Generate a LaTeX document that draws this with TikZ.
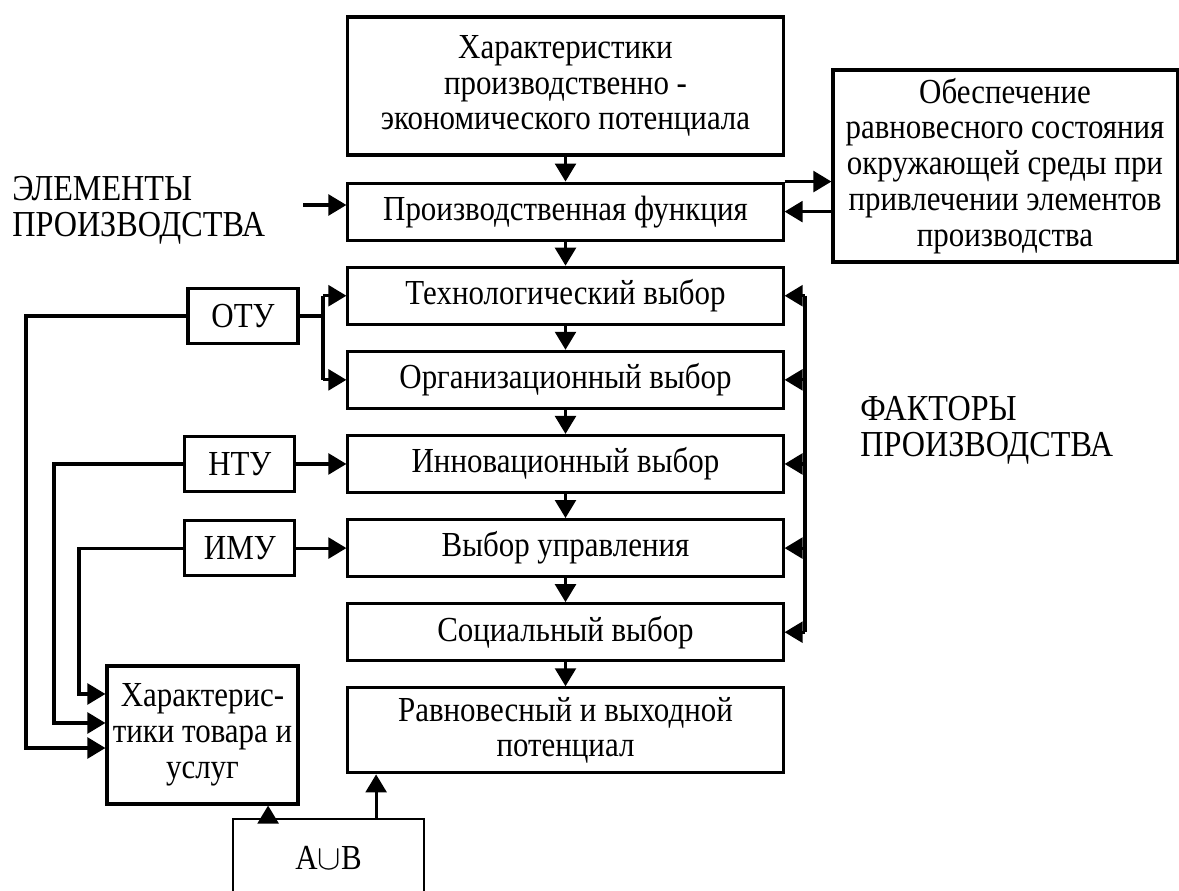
\documentclass[tikz,border=0pt]{standalone}
\usepackage{fontspec}
\setmainfont{Liberation Serif}[FakeStretch=0.88]
\usepackage{tikz}
\usetikzlibrary{positioning, arrows.meta, calc}

\begin{document}
\begin{tikzpicture}[
  x=0.025cm, y=-0.025cm,
  box/.style={
    rectangle, draw, line width=2.2pt,
    minimum width=#1, minimum height=1.425cm,
    font=\fontsize{25}{25.5}\selectfont, align=center, inner sep=2pt
  },
  box/.default=10.875cm,
  tag/.style={font=\fontsize{26}{25.5}\selectfont, align=left, anchor=west, inner sep=0pt},
  link/.style={line width=2.2pt},
  arr/.style={link, -{Triangle[length=0.45cm,width=0.52cm]}},
  node distance=0.6cm
]
\useasboundingbox (0,0) rectangle (1179,891);
\clip (0,0) rectangle (1179,891);

% main column
\node[box, minimum height=3.45cm] (char) at (565.5,86) {Характеристики\\производственно -\\экономического потенциала};
\node[box, below=0.625cm of char] (prod) {Производственная функция};
\node[box, below=of prod] (tech) {Технологический выбор};
\node[box, below=of tech] (org) {Организационный выбор};
\node[box, below=of org] (innov) {Инновационный выбор};
\node[box, below=of innov] (mgmt) {Выбор управления};
\node[box, below=of mgmt] (social) {Социальный выбор};
\node[box, minimum height=2.125cm, below=of social] (eq) {Равновесный и выходной\\потенциал};

% environment
\node[box=8.6cm, minimum height=4.8cm] (env) at (1005,166) {Обеспечение\\равновесного состояния\\окружающей среды при\\привлечении элементов\\производства};

% labels
\node[tag] (elem) at (12,210) {ЭЛЕМЕНТЫ\\ПРОИЗВОДСТВА};
\node[tag] (fact) at (860,430) {ФАКТОРЫ\\ПРОИЗВОДСТВА};

% left side
\node[box=2.75cm, minimum height=1.375cm] (otu) at (243,316) {ОТУ};
\node[box=2.75cm, minimum height=1.375cm, left=1.25cm of innov] (ntu) {НТУ};
\node[box=2.75cm, minimum height=1.375cm, left=1.25cm of mgmt] (imu) {ИМУ};
\node[box=4.775cm, minimum height=3.45cm] (goods) at (202.5,735) {Характерис-\\тики товара и\\услуг};
\node[box=4.775cm, minimum height=1.95cm, line width=1.3pt] (ab) at (328.5,858) {A$\cup$B};

\coordinate (elin) at (303,205);
\coordinate (split) at (323,0);
\coordinate (fbus) at (805,0);
\coordinate (busA) at (26,0);
\coordinate (busB) at (54,0);
\coordinate (busC) at (79,0);
\coordinate (g1) at ([yshift=1.025cm]goods.west);
\coordinate (g2) at ([yshift=0.3cm]goods.west);
\coordinate (g3) at ([yshift=-0.325cm]goods.west);
\coordinate (abl) at ([xshift=-1.51cm]ab.north);
\coordinate (abr) at ([xshift=1.19cm]ab.north);

% chain
\draw[arr] (char.south) -- (prod.north);
\draw[arr] (prod.south) -- (tech.north);
\draw[arr] (tech.south) -- (org.north);
\draw[arr] (org.south) -- (innov.north);
\draw[arr] (innov.south) -- (mgmt.north);
\draw[arr] (mgmt.south) -- (social.north);
\draw[arr] (social.south) -- (eq.north);

% production function
\draw[arr] (elin) -- (elin -| prod.west);
\draw[arr] (prod.north east) -- (prod.north east -| env.west);
\draw[arr] (env.west |- prod.east) -- (prod.east);

% factors
\draw[link] (fbus |- tech.east) -- (fbus |- social.east);
\draw[arr] (fbus |- tech.east) -- (tech.east);
\draw[arr] (fbus |- org.east) -- (org.east);
\draw[arr] (fbus |- innov.east) -- (innov.east);
\draw[arr] (fbus |- mgmt.east) -- (mgmt.east);
\draw[arr] (fbus |- social.east) -- (social.east);

% OTU, NTU, IMU
\draw[link] (otu.east) -- (split |- otu.east);
\draw[link] (split |- tech.west) -- (split |- org.west);
\draw[arr] (split |- tech.west) -- (tech.west);
\draw[arr] (split |- org.west) -- (org.west);
\draw[arr] (ntu) -- (innov);
\draw[arr] (imu) -- (mgmt);

\draw[arr] (imu.west) -- (busC |- imu.west) -- (busC |- g1) -- (g1);
\draw[arr] (ntu.west) -- (busB |- ntu.west) -- (busB |- g2) -- (g2);
\draw[arr] (otu.west) -- (busA |- otu.west) -- (busA |- g3) -- (g3);

% A u B
\draw[arr] (abl) -- (abl |- goods.south);
\draw[arr] (abr) -- (abr |- eq.south);

\end{tikzpicture}
\end{document}
